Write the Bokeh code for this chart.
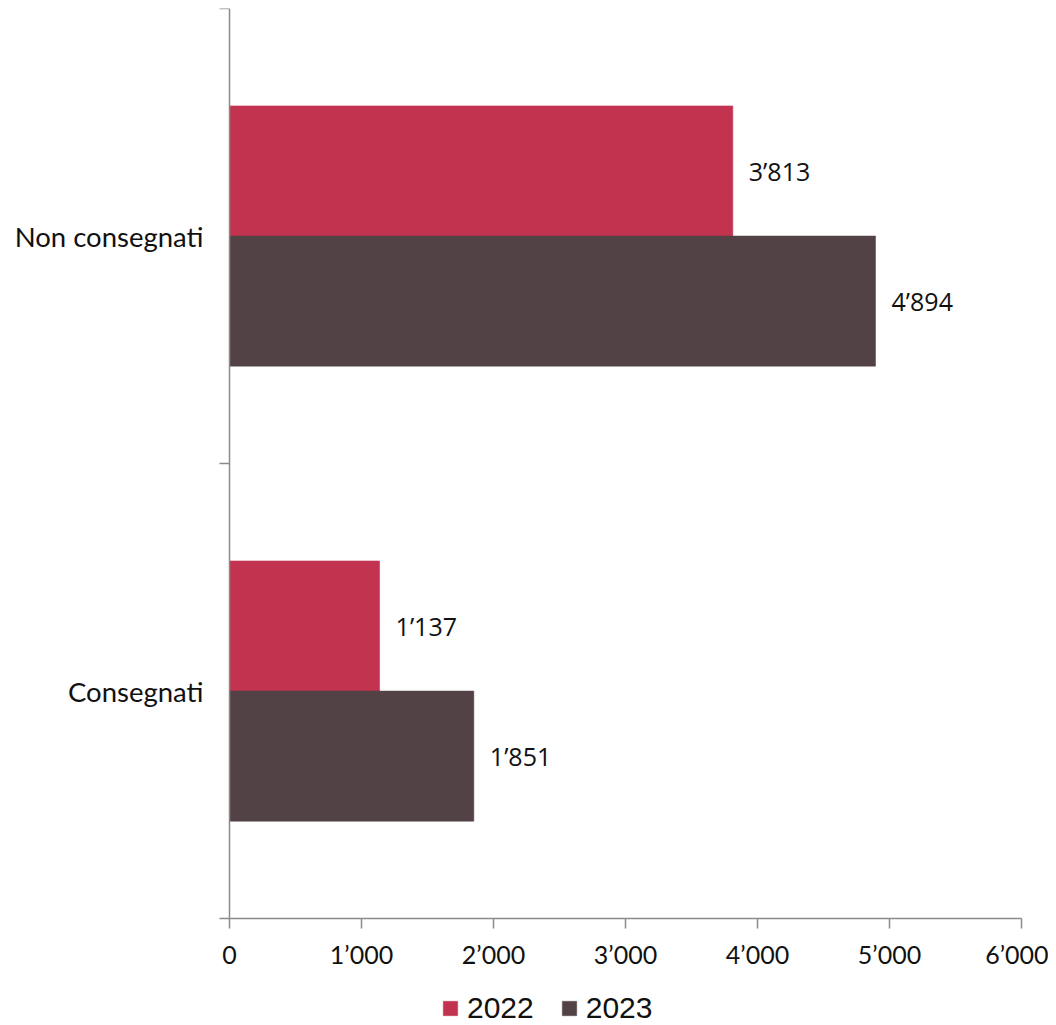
from bokeh.plotting import figure
from bokeh.models import FixedTicker, Range1d, Legend, LegendItem, ColumnDataSource
from bokeh.embed import file_html
from bokeh.resources import INLINE
from bokeh.core.properties import value

categories = ["Consegnati", "Non consegnati"]
years = ["2022", "2023"]
values_2022 = [1137, 3813]
values_2023 = [1851, 4894]
x_ticks = [0, 1000, 2000, 3000, 4000, 5000, 6000]
x_tick_labels = ["0", "1’000", "2’000", "3’000", "4’000", "5’000", "6’000"]
colors = ["#C1334F", "#524245"]

def fmt(v):
    return f"{v:,}".replace(",", "’")

n = len(categories)
x_max = x_ticks[-1]
px_per_unit = 792 / x_max
p = figure(width=1048, height=1025, output_backend="svg", toolbar_location=None,
           x_range=Range1d(-229 / px_per_unit, x_max + 27 / px_per_unit),
           y_range=Range1d(-0.235, n),
           min_border_left=0, min_border_right=0, min_border_top=8,
           min_border_bottom=0)
p.outline_line_color = None
p.xgrid.visible = False
p.ygrid.visible = False

bar_h = 0.286
series = [values_2022, values_2023]
offsets = [bar_h / 2, -bar_h / 2]
renderers = []
for s, vals in enumerate(series):
    ys = [i + 0.5 + offsets[s] for i in range(n)]
    src = ColumnDataSource(dict(y=ys, right=vals, lab=[fmt(v) for v in vals]))
    r = p.hbar(y="y", left=0, right="right", height=bar_h, source=src,
               fill_color=colors[s], line_color=colors[s], line_width=0.5)
    renderers.append(r)
    p.text(x="right", y="y", text="lab", source=src, x_offset=16,
           text_baseline="middle", text_align="left", text_font=value("Open Sans"),
           text_font_size="25px", text_color="#111111")

axis_color = "#8a8a8a"
# x axis, pinned at y = 0
p.xaxis.fixed_location = 0
p.xaxis.bounds = (0, x_max)
p.xaxis.ticker = FixedTicker(ticks=x_ticks)
p.xaxis.major_label_overrides = {t: l for t, l in zip(x_ticks, x_tick_labels)}
p.xaxis.axis_line_color = axis_color
p.xaxis.axis_line_width = 1.5
p.xaxis.major_tick_line_color = axis_color
p.xaxis.major_tick_line_width = 1.5
p.xaxis.major_tick_out = 10
p.xaxis.major_tick_in = 0
p.xaxis.minor_tick_line_color = None
p.xaxis.major_label_text_font = "Lato"
p.xaxis.major_label_text_font_size = "25px"
p.xaxis.major_label_text_color = "#111111"
p.xaxis.major_label_standoff = 10

# y axis, pinned at x = 0
p.yaxis.fixed_location = 0
p.yaxis.bounds = (0, n)
p.yaxis.ticker = FixedTicker(ticks=[i + 0.5 for i in range(n)],
                             minor_ticks=list(range(n + 1)))
p.yaxis.major_label_overrides = {i + 0.5: c for i, c in enumerate(categories)}
p.yaxis.axis_line_color = axis_color
p.yaxis.axis_line_width = 1.5
p.yaxis.major_tick_line_color = None
p.yaxis.minor_tick_line_color = axis_color
p.yaxis.minor_tick_line_width = 1.5
p.yaxis.minor_tick_out = 10
p.yaxis.minor_tick_in = 0
p.yaxis.major_label_text_font = "Lato"
p.yaxis.major_label_text_font_size = "27.5px"
p.yaxis.major_label_text_color = "#111111"
p.yaxis.major_label_standoff = 16

legend = Legend(items=[LegendItem(label=years[i], renderers=[renderers[i]]) for i in range(2)],
                orientation="horizontal", location=(441, 0),
                label_text_font="Liberation Sans", label_text_font_size="30px",
                label_text_color="#111111", glyph_width=18, glyph_height=18,
                spacing=26, label_standoff=8, border_line_color=None,
                background_fill_alpha=0, padding=0, margin=0)
p.add_layout(legend, "center")

open("out.html", "w").write(file_html(p, INLINE))
